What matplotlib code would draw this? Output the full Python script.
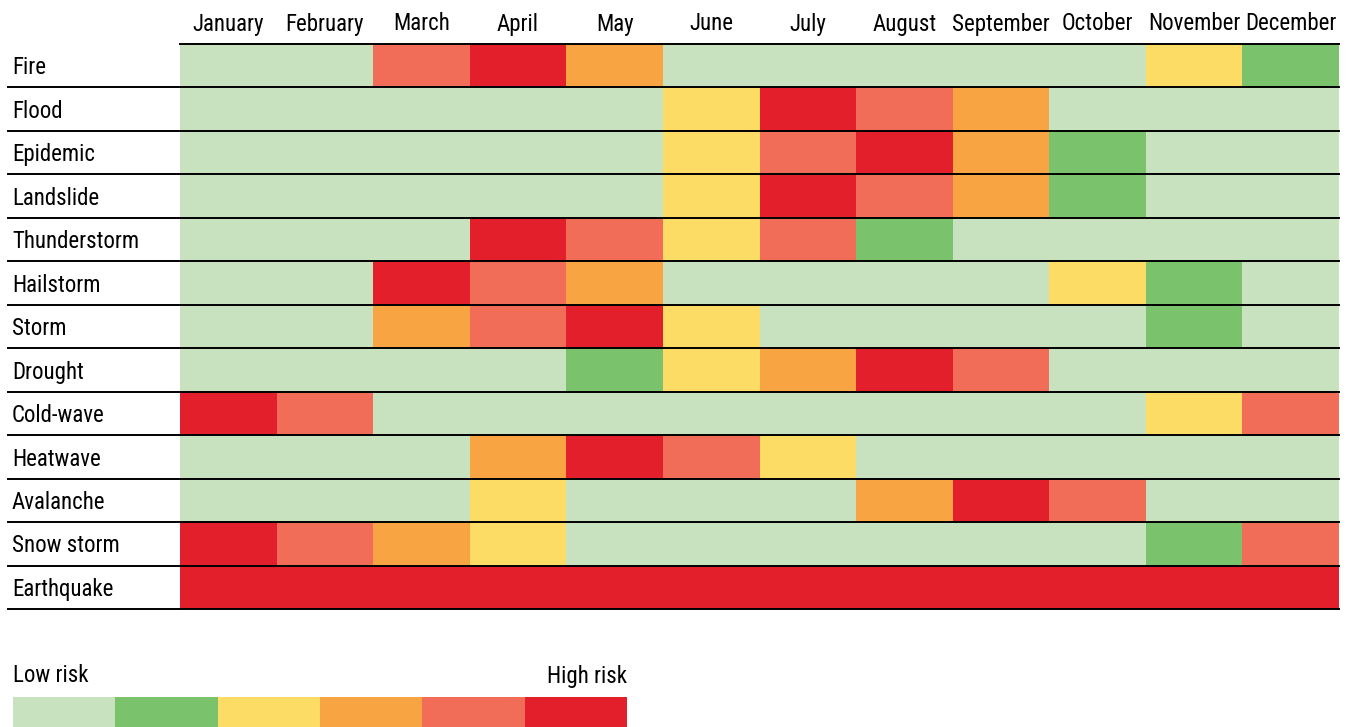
import numpy as np
import matplotlib
matplotlib.use("Agg")
import matplotlib.pyplot as plt
from matplotlib import font_manager
from matplotlib.colors import ListedColormap, BoundaryNorm

# Data: risk level per hazard and month (0 = low ... 5 = high).
months = ["January", "February", "March", "April", "May", "June",
          "July", "August", "September", "October", "November", "December"]
hazards = ["Fire", "Flood", "Epidemic", "Landslide", "Thunderstorm", "Hailstorm",
           "Storm", "Drought", "Cold-wave", "Heatwave", "Avalanche", "Snow storm", "Earthquake"]
fire = [0, 0, 4, 5, 3, 0, 0, 0, 0, 0, 2, 1]
flood = [0, 0, 0, 0, 0, 2, 5, 4, 3, 0, 0, 0]
epidemic = [0, 0, 0, 0, 0, 2, 4, 5, 3, 1, 0, 0]
landslide = [0, 0, 0, 0, 0, 2, 5, 4, 3, 1, 0, 0]
thunderstorm = [0, 0, 0, 5, 4, 2, 4, 1, 0, 0, 0, 0]
hailstorm = [0, 0, 5, 4, 3, 0, 0, 0, 0, 2, 1, 0]
storm = [0, 0, 3, 4, 5, 2, 0, 0, 0, 0, 1, 0]
drought = [0, 0, 0, 0, 1, 2, 3, 5, 4, 0, 0, 0]
coldwave = [5, 4, 0, 0, 0, 0, 0, 0, 0, 0, 2, 4]
heatwave = [0, 0, 0, 3, 5, 4, 2, 0, 0, 0, 0, 0]
avalanche = [0, 0, 0, 2, 0, 0, 0, 3, 5, 4, 0, 0]
snowstorm = [5, 4, 3, 2, 0, 0, 0, 0, 0, 0, 1, 4]
earthquake = [5, 5, 5, 5, 5, 5, 5, 5, 5, 5, 5, 5]
levels = [0, 1, 2, 3, 4, 5]

risk_colors = ["#c8e2c0", "#7ac36c", "#fddc66", "#f9a442", "#f26d57", "#e31f2c"]

# pick a narrow font if one is installed
font_kw = {}
names = set(f.name for f in font_manager.fontManager.ttflist)
for cand in ["Liberation Sans Narrow", "Roboto Condensed", "Open Sans Condensed", "Arial Narrow"]:
    if cand in names:
        font_kw = {"family": [cand, "DejaVu Sans"]}
        break
if not font_kw:
    cond = [f for f in font_manager.fontManager.ttflist
            if f.name == "DejaVu Sans" and f.stretch in ("condensed", 300) and f.weight in ("normal", 400)]
    if cond:
        font_kw = {"fname": cond[0].fname}
fp = font_manager.FontProperties(**font_kw)
FS = 16.5
fp.set_size(FS)

grid = np.array([fire, flood, epidemic, landslide, thunderstorm, hailstorm, storm,
                 drought, coldwave, heatwave, avalanche, snowstorm, earthquake])
cmap = ListedColormap(risk_colors)
norm = BoundaryNorm(np.arange(-0.5, 6.5, 1), cmap.N)

W, H = 1349, 727
fig = plt.figure(figsize=(W / 100, H / 100), dpi=100)

# main heatmap
L, R, T, B = 180, 1339, 44, 609
ax = fig.add_axes([L / W, 1 - B / H, (R - L) / W, (B - T) / H])
ax.pcolormesh(np.arange(13), np.arange(14), grid, cmap=cmap, norm=norm)
ax.set_xlim(0, 12)
ax.set_ylim(13, 0)
ax.axis("off")

left_ext = (8 - L) / (R - L)
ax.plot([0, 1], [0, 0], color="black", lw=1.4, transform=ax.get_yaxis_transform(), clip_on=False)
for i in range(1, len(hazards) + 1):
    ax.plot([left_ext, 1], [i, i], color="black", lw=1.4,
            transform=ax.get_yaxis_transform(), clip_on=False)

lab_x = (12 - L) / (R - L)
for i, h in enumerate(hazards):
    ax.text(lab_x, i + 0.55, h, ha="left", va="center", fontproperties=fp,
            transform=ax.get_yaxis_transform())

top_y = 1 + 20 / (B - T)
for j, m in enumerate(months):
    ax.text(j + 0.5, top_y, m, ha="center", va="center", fontproperties=fp,
            transform=ax.get_xaxis_transform())

# legend bar
lx0, lx1, ly0, ly1 = 13, 627, 697, 727
lax = fig.add_axes([lx0 / W, 1 - ly1 / H, (lx1 - lx0) / W, (ly1 - ly0) / H])
lax.pcolormesh(np.arange(7), [0, 1], np.array([levels]), cmap=cmap, norm=norm)
lax.set_xlim(0, 6)
lax.set_ylim(0, 1)
lax.axis("off")
ty = 1 + (697 - 676) / (ly1 - ly0)
lax.text(0, ty, "Low risk", ha="left", va="center", fontproperties=fp, transform=lax.transAxes)
lax.text(1, ty, "High risk", ha="right", va="center", fontproperties=fp, transform=lax.transAxes)

fig.savefig("out.png", dpi=100)
